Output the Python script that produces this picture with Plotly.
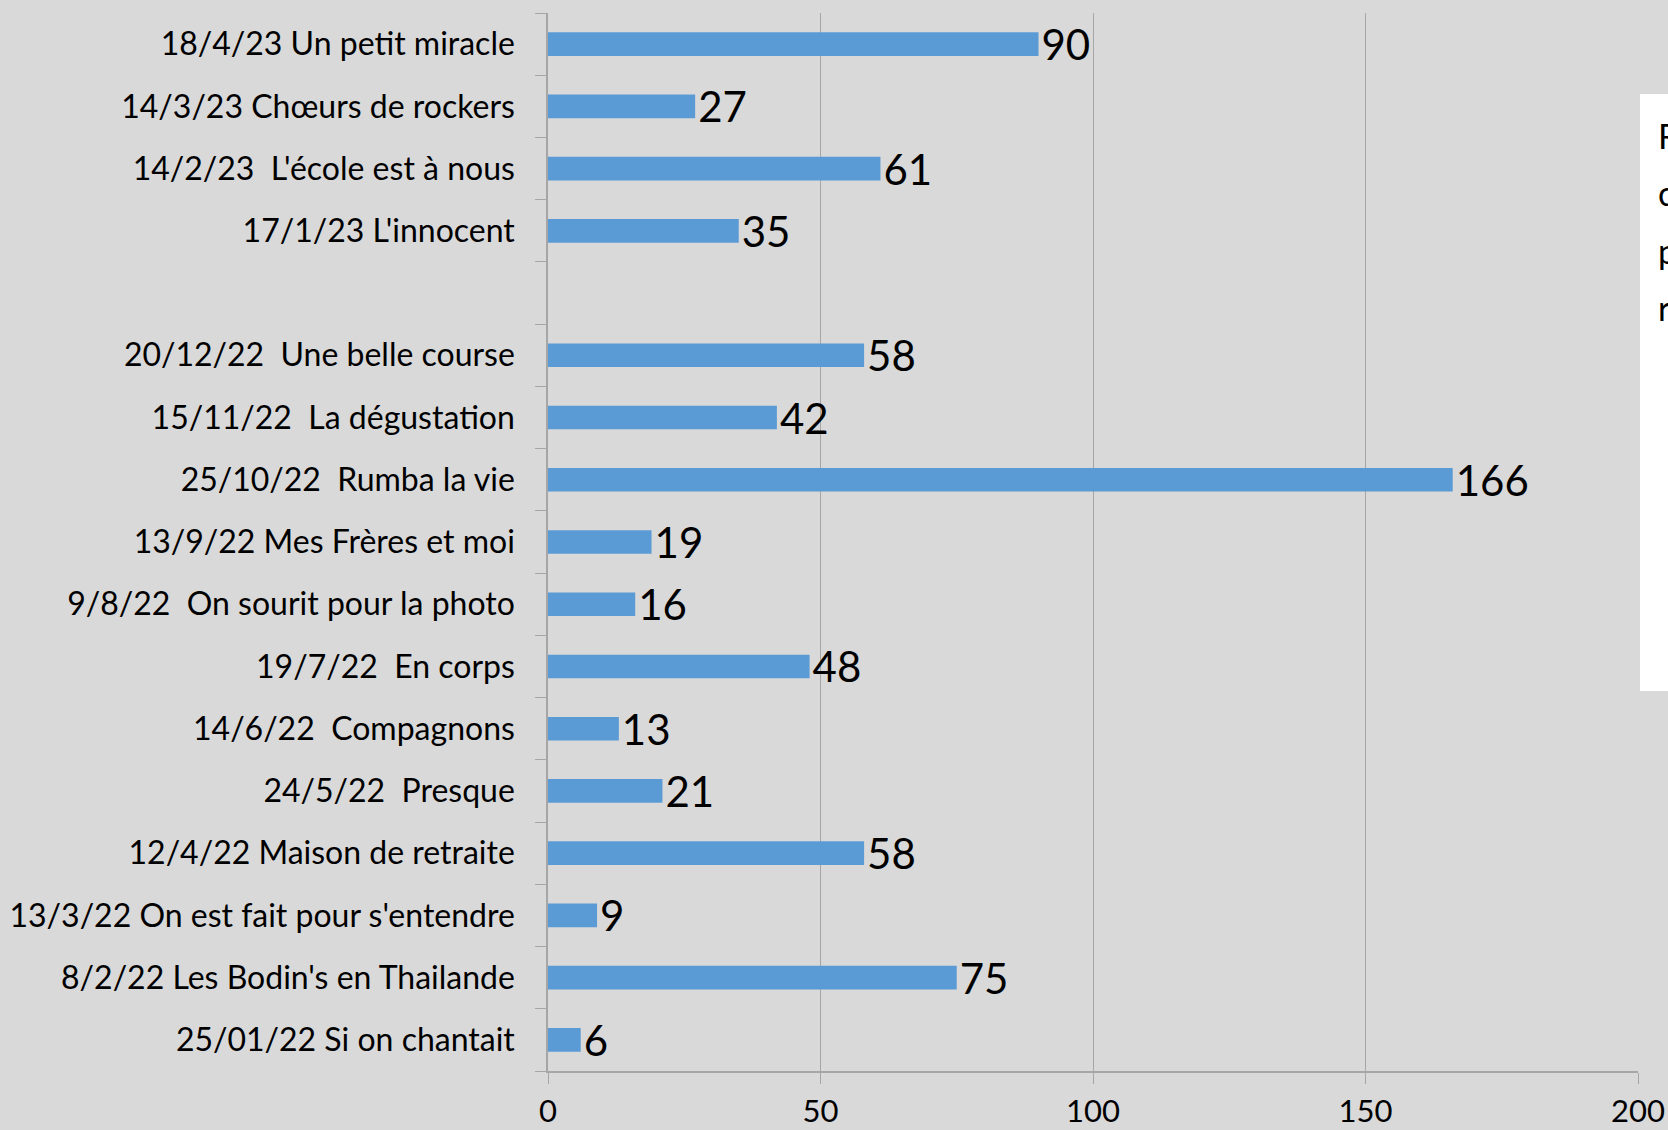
import plotly.graph_objects as go

# Data (top to bottom as displayed)
categories = [
    "18/4/23 Un petit miracle",
    "14/3/23 Chœurs de rockers",
    "14/2/23 \u00a0L'école est à nous",
    "17/1/23 L'innocent",
    " ",
    "20/12/22 \u00a0Une belle course",
    "15/11/22 \u00a0La dégustation",
    "25/10/22 \u00a0Rumba la vie",
    "13/9/22 Mes Frères et moi",
    "9/8/22 \u00a0On sourit pour la photo",
    "19/7/22 \u00a0En corps",
    "14/6/22 \u00a0Compagnons",
    "24/5/22 \u00a0Presque",
    "12/4/22 Maison de retraite",
    "13/3/22 On est fait pour s'entendre",
    "8/2/22 Les Bodin's en Thailande",
    "25/01/22 Si on chantait",
]
values = [90, 27, 61, 35, None, 58, 42, 166, 19, 16, 48, 13, 21, 58, 9, 75, 6]
x_ticks = [0, 50, 100, 150, 200]
box_letters = ["R", "c", "p", "r"]

FONT = "Lato"
BG = "#D9D9D9"
GRID = "#A6A6A6"
BAR = "#5B9BD5"

fig = go.Figure()
fig.add_trace(go.Bar(
    y=categories,
    x=values,
    orientation="h",
    marker=dict(color=BAR, line=dict(width=0)),
    width=0.38,
    text=[("" if v is None else str(v)) for v in values],
    textposition="outside",
    constraintext="none",
    textfont=dict(family=FONT, size=42, color="black"),
    cliponaxis=False,
    hoverinfo="x+y",
))

W, H = 1668, 1130
ml, mr, mt, mb = 548, 30, 13, 59
pw = W - ml - mr
ph = H - mt - mb

def px_x(x):
    return (x - ml) / pw

def px_y(y):
    return 1 - (y - mt) / ph

fig.add_shape(type="rect", xref="paper", yref="paper",
              x0=px_x(1640), x1=px_x(1700), y0=px_y(691), y1=px_y(94),
              fillcolor="white", line=dict(width=0), layer="above")

for i, (letter, yy) in enumerate(zip(box_letters, [135, 193, 250, 307])):
    fig.add_annotation(text=letter, xref="paper", yref="paper",
                       x=px_x(1656), y=px_y(yy), xanchor="left", yanchor="middle",
                       showarrow=False,
                       font=dict(family=FONT, size=34, color="black"))

fig.update_layout(
    width=W, height=H,
    margin=dict(l=ml, r=mr, t=mt, b=mb, autoexpand=False),
    paper_bgcolor=BG, plot_bgcolor=BG,
    showlegend=False,
    bargap=0.62,
    xaxis=dict(
        range=[0, 200], tickvals=x_ticks, ticktext=[str(t) for t in x_ticks],
        showgrid=True, gridcolor=GRID, gridwidth=1,
        showline=True, linecolor=GRID, linewidth=1.5,
        ticks="outside", ticklen=11, tickcolor=GRID,
        tickfont=dict(family=FONT, size=31, color="black"),
        ticklabelstandoff=1,
        zeroline=False, fixedrange=True,
    ),
    yaxis=dict(
        type="category", categoryorder="array", categoryarray=categories[::-1],
        tickson="boundaries", ticks="outside", ticklen=11, tickcolor=GRID,
        showline=True, linecolor=GRID, linewidth=1.5,
        showgrid=False,
        tickfont=dict(family=FONT, size=32, color="black"),
        ticklabelstandoff=25,
        range=[-0.5, len(categories) - 0.5],
        fixedrange=True,
    ),
)

fig.write_html("out.html", config={"displayModeBar": False},
               post_script="document.body.style.margin='0';")
